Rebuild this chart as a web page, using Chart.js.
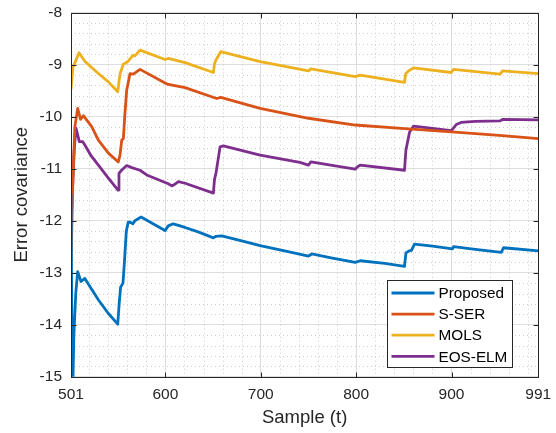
<!DOCTYPE html>
<html>
<head>
<meta charset="utf-8">
<title>Error covariance</title>
<script src="https://cdn.jsdelivr.net/npm/chart.js@4.4.1/dist/chart.umd.min.js"></script>
<style>
  html, body { margin: 0; padding: 0; background: #fff; }
  #wrap { position: relative; width: 556px; height: 433px; }
</style>
</head>
<body>
<div id="wrap"><canvas id="chart"></canvas></div>
<script>
// ---- data: sample index (t) and log error covariance for each method ----
const proposedT = [501, 502.5, 504, 506, 508, 511.5, 515.5, 522, 530, 540, 550, 551.5, 553, 555.5, 557, 559, 561, 563, 566, 568, 574.5, 587, 599.6, 603, 608.3, 620.6, 635, 650.3, 653, 659, 680, 699.3, 725, 750, 753.5, 775, 799, 804.2, 830, 850.7, 852.2, 855.6, 858, 861.2, 880, 901, 902.1, 925, 952.2, 954.6, 991];
const proposedErr = [-11.5, -15.6, -14.2, -13.4, -12.98, -13.17, -13.11, -13.3, -13.53, -13.78, -13.99, -13.6, -13.28, -13.2, -12.8, -12.2, -12.03, -12.03, -12.06, -12.0, -11.93, -12.06, -12.19, -12.1, -12.06, -12.13, -12.22, -12.33, -12.3, -12.29, -12.39, -12.48, -12.58, -12.68, -12.64, -12.72, -12.8, -12.77, -12.82, -12.88, -12.62, -12.58, -12.57, -12.45, -12.49, -12.54, -12.5, -12.55, -12.61, -12.52, -12.58];

const sserT = [501, 503, 505, 508, 511, 514, 522.7, 529.7, 540.2, 550.6, 552.4, 554.2, 555.9, 557.5, 559.4, 562.9, 566.4, 573.4, 599.6, 603, 620.6, 653.8, 658, 699.3, 750, 799, 851, 900, 950, 991];
const sserErr = [-12.85, -11.2, -10.2, -9.84, -10.05, -9.98, -10.19, -10.45, -10.7, -10.87, -10.74, -10.45, -10.42, -9.95, -9.49, -9.17, -9.18, -9.09, -9.35, -9.38, -9.44, -9.65, -9.63, -9.84, -10.03, -10.16, -10.23, -10.29, -10.36, -10.42];

const molsT = [501, 503, 505, 509.4, 515.7, 529.7, 540.2, 550, 551.5, 552.5, 555.9, 560, 564.7, 566, 568, 573.4, 599.6, 603, 620.6, 650.3, 651.5, 653, 658, 699.3, 750, 752.5, 799, 804.2, 850.7, 852, 855, 860.2, 899.7, 902.1, 951, 953.5, 991];
const molsErr = [-9.47, -9.05, -8.97, -8.77, -8.94, -9.17, -9.33, -9.52, -9.3, -9.17, -8.99, -8.95, -8.85, -8.82, -8.83, -8.72, -8.9, -8.88, -8.96, -9.15, -8.98, -8.91, -8.75, -8.94, -9.12, -9.08, -9.23, -9.2, -9.34, -9.17, -9.12, -9.06, -9.15, -9.09, -9.18, -9.12, -9.17];

const eosT = [501, 503, 504.5, 506.2, 508, 509.7, 513.3, 516, 522, 529.7, 540.2, 550.3, 551.3, 554, 559.4, 564.7, 573.4, 580.4, 603, 606.7, 609, 613.6, 620.6, 650.3, 651.5, 653, 657.3, 660.8, 699.3, 741, 750, 752.5, 799, 801, 804.2, 850.7, 852.2, 854.3, 856, 860.2, 899.7, 902, 905, 910, 925, 951, 953.5, 991];
const eosErr = [-12.1, -11.2, -10.6, -10.22, -10.35, -10.48, -10.48, -10.56, -10.75, -10.93, -11.18, -11.41, -11.09, -11.03, -10.94, -10.98, -11.03, -11.12, -11.29, -11.33, -11.31, -11.25, -11.28, -11.47, -11.2, -11.09, -10.58, -10.56, -10.74, -10.88, -10.93, -10.87, -11.01, -10.97, -10.93, -11.03, -10.64, -10.45, -10.3, -10.18, -10.27, -10.22, -10.15, -10.11, -10.09, -10.08, -10.05, -10.06];

const seriesNames = ['Proposed', 'S-SER', 'MOLS', 'EOS-ELM'];
const seriesColors = ['#0072BD', '#D95319', '#EDB120', '#7E2F8E'];

const xTicks = [501, 600, 700, 800, 900, 991];
const yTicks = [-15, -14, -13, -12, -11, -10, -9, -8];
const xMinorStep = 20;
const yMinorStep = 0.2;

const FONT = '"Liberation Sans", Arial, Helvetica, sans-serif';
const INK = '#262626';

const toPoints = (t, v) => t.map((tt, i) => ({ x: tt, y: v[i] }));

// minor dotted grid under the lines, box + inward ticks + legend on top
const matlabAxes = {
  id: 'matlabAxes',
  beforeDatasetsDraw(chart) {
    const { ctx, chartArea: a, scales: { x, y } } = chart;
    ctx.save();
    ctx.strokeStyle = '#cdcdcd';
    ctx.lineWidth = 1;
    ctx.setLineDash([1, 3]);
    ctx.beginPath();
    for (let v = 520; v < x.max; v += xMinorStep) {
      if (xTicks.includes(v)) continue;
      const px = Math.round(x.getPixelForValue(v)) + 0.5;
      ctx.moveTo(px, a.top);
      ctx.lineTo(px, a.bottom);
    }
    const n = Math.round((y.max - y.min) / yMinorStep);
    for (let i = 1; i < n; i++) {
      if (i % 5 === 0) continue;
      const py = Math.round(y.getPixelForValue(y.min + i * yMinorStep)) + 0.5;
      ctx.moveTo(a.left, py);
      ctx.lineTo(a.right, py);
    }
    ctx.stroke();
    ctx.restore();
  },
  afterDraw(chart) {
    const { ctx, chartArea: a, scales: { x, y } } = chart;
    const L = Math.round(a.left) + 0.5, R = Math.round(a.right) + 0.5;
    const T = Math.round(a.top) + 0.5, B = Math.round(a.bottom) + 0.5;
    const tick = 5;
    ctx.save();
    ctx.strokeStyle = INK;
    ctx.lineWidth = 1;
    ctx.beginPath();
    ctx.rect(L, T, R - L, B - T);
    xTicks.forEach(v => {
      const px = Math.round(x.getPixelForValue(v)) + 0.5;
      ctx.moveTo(px, B); ctx.lineTo(px, B - tick);
      ctx.moveTo(px, T); ctx.lineTo(px, T + tick);
    });
    yTicks.forEach(v => {
      const py = Math.round(y.getPixelForValue(v)) + 0.5;
      ctx.moveTo(L, py); ctx.lineTo(L + tick, py);
      ctx.moveTo(R, py); ctx.lineTo(R - tick, py);
    });
    ctx.stroke();

    // legend box, lower right inside the axes
    const w = 125, h = 87;
    const lx = Math.round(a.right - 26.5 - w) + 0.5;
    const ly = Math.round(a.bottom - 10 - h) + 0.5;
    ctx.fillStyle = '#fff';
    ctx.fillRect(lx, ly, w, h);
    ctx.strokeStyle = INK;
    ctx.strokeRect(lx, ly, w, h);
    ctx.font = '15.3px ' + FONT;
    ctx.textBaseline = 'middle';
    ctx.textAlign = 'left';
    chart.data.datasets.forEach((ds, i) => {
      const ry = ly + 12.5 + i * 21.1;
      ctx.strokeStyle = ds.borderColor;
      ctx.lineWidth = ds.borderWidth;
      ctx.beginPath();
      ctx.moveTo(lx + 4, ry);
      ctx.lineTo(lx + 47, ry);
      ctx.stroke();
      ctx.fillStyle = '#000';
      ctx.fillText(ds.label, lx + 51, ry + 1);
    });
    ctx.restore();
  }
};

const seriesT = [proposedT, sserT, molsT, eosT];
const seriesErr = [proposedErr, sserErr, molsErr, eosErr];

new Chart(document.getElementById('chart'), {
  type: 'line',
  data: {
    datasets: seriesNames.map((name, i) => ({
      label: name,
      data: toPoints(seriesT[i], seriesErr[i]),
      borderColor: seriesColors[i],
      backgroundColor: seriesColors[i],
      borderWidth: 2.8,
      borderJoinStyle: 'round',
      borderCapStyle: 'round',
      pointRadius: 0,
      tension: 0,
      fill: false
    }))
  },
  options: {
    responsive: true,
    maintainAspectRatio: false,
    animation: false,
    events: [],
    layout: { padding: { top: 12.7, right: 17.7, bottom: 0, left: 0 } },
    plugins: {
      legend: { display: false },
      tooltip: { enabled: false }
    },
    scales: {
      x: {
        type: 'linear',
        min: 501,
        max: 991,
        afterBuildTicks: s => { s.ticks = xTicks.map(v => ({ value: v })); },
        afterFit: s => { s.height = 56.3; s.paddingLeft = 0; s.paddingRight = 0; },
        grid: { color: '#dedede', drawTicks: false },
        border: { display: false },
        ticks: { color: INK, font: { family: FONT, size: 15.5 }, padding: 9, maxRotation: 0, autoSkip: false },
        title: { display: true, text: 'Sample (t)', color: INK, font: { family: FONT, size: 18.5 }, padding: { top: 0, bottom: 4 } }
      },
      y: {
        min: -15,
        max: -8,
        afterBuildTicks: s => { s.ticks = yTicks.map(v => ({ value: v })); },
        afterFit: s => { s.width = 71; s.paddingTop = 0; s.paddingBottom = 0; },
        grid: { color: '#dedede', drawTicks: false },
        border: { display: false },
        ticks: { color: INK, font: { family: FONT, size: 15.5 }, padding: 9 },
        title: { display: true, text: 'Error covariance', color: INK, font: { family: FONT, size: 18.5 }, padding: { top: 10.6, bottom: 0 } }
      }
    }
  },
  plugins: [matlabAxes]
});
</script>
</body>
</html>
